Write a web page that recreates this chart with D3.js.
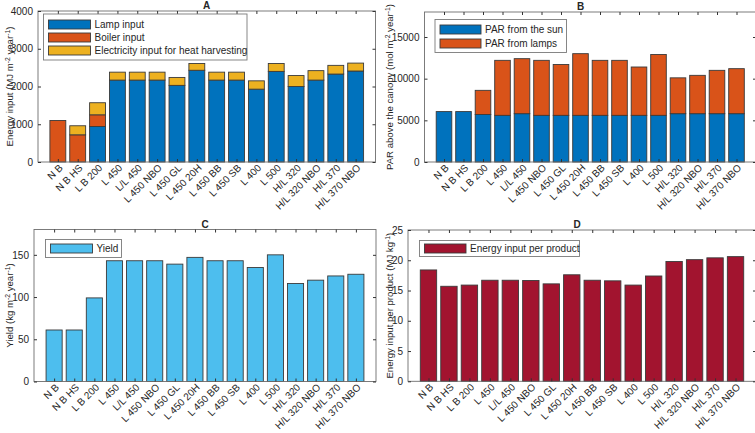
<!DOCTYPE html>
<html><head><meta charset="utf-8">
<script src="https://cdn.jsdelivr.net/npm/d3@7"></script>
<style>
body{margin:0;background:#fff;}
text{font-family:"Liberation Sans",Arial,Helvetica,sans-serif;fill:#262626;}
</style></head>
<body><svg id="chart" width="755" height="433"></svg>
<script>
const categories = ["N B","N B HS","L B 200","L 450","L/L 450","L 450 NBO","L 450 GL","L 450 20H","L 450 BB","L 450 SB","L 400","L 500","H/L 320","H/L 320 NBO","H/L 370","H/L 370 NBO"];
// Panel A (MJ m-2 year-1)
const lampInput   = [0,0,940,2170,2170,2170,2030,2430,2170,2170,1930,2400,2000,2170,2330,2410];
const boilerInput = [1100,720,310,0,0,0,0,0,0,0,0,0,0,0,0,0];
const elecHeatHarvest = [0,240,320,210,210,210,210,180,210,210,220,210,290,250,230,210];
// Panel B (mol m-2 year-1)
const parSun   = [6050,6050,5700,5600,5800,5600,5600,5600,5600,5600,5600,5600,5800,5800,5800,5800];
const parLamps = [0,0,2900,6600,6600,6600,6100,7400,6600,6600,5800,7300,4300,4600,5200,5400];
// Panel C (kg m-2 year-1)
const yieldVals = [61,61,99,143,143,143,139,147,143,143,135,150,116,120,125,127];
// Panel D (MJ kg-1)
const energyPerProduct = [18.4,15.7,15.9,16.7,16.7,16.65,16.1,17.6,16.7,16.6,15.9,17.4,19.8,20.1,20.4,20.6];

const ticksA = [0,1000,2000,3000,4000];
const ticksB = [0,5000,10000,15000];
const ticksC = [0,50,100,150];
const ticksD = [0,5,10,15,20,25];

const COL = {blue:"#0072BD", orange:"#D95319", yellow:"#EDB120", light:"#4DBEEE", red:"#A2142F"};
const FS = 10;
const svg = d3.select("#chart");

function panel(cfg){
  const g = svg.append("g");
  const x = d3.scalePoint().domain(categories).range([cfg.left, cfg.right]).padding(1);
  const step = x.step();
  const bw = step*0.8;
  const y = d3.scaleLinear().domain(cfg.ydomain).range([cfg.bottom, cfg.top]);
  const stack = d3.stack().keys(cfg.series.map((s,i)=>i))
    .value((d,k)=>cfg.series[k].values[d]);
  const layers = stack(d3.range(categories.length));
  layers.forEach((layer,k)=>{
    g.append("g").selectAll("rect").data(layer.filter(d=>d[1]-d[0]>0)).join("rect")
      .attr("x", d=>x(categories[d.data])-bw/2)
      .attr("width", bw)
      .attr("y", d=>y(d[1]))
      .attr("height", d=>y(d[0])-y(d[1]))
      .attr("fill", cfg.series[k].color)
      .attr("stroke", "#3a3a3a").attr("stroke-width", 0.9);
  });
  const axCol = "#6e6e6e";
  g.append("rect").attr("x",cfg.left).attr("y",cfg.top)
    .attr("width",cfg.right-cfg.left).attr("height",cfg.bottom-cfg.top)
    .attr("fill","none").attr("stroke",axCol).attr("stroke-width",0.9);
  const yAx = g.append("g").attr("transform",`translate(${cfg.left},0)`)
    .call(d3.axisLeft(y).tickValues(cfg.yticks).tickSize(-3).tickPadding(5).tickFormat(d3.format("d")));
  yAx.select(".domain").remove();
  yAx.selectAll("line").attr("stroke","#333");
  yAx.selectAll("text").attr("font-size",FS).attr("fill","#262626").attr("font-family",null);
  const yAxR = g.append("g").attr("transform",`translate(${cfg.right},0)`)
    .call(d3.axisRight(y).tickValues(cfg.yticks).tickSize(-3).tickFormat(""));
  yAxR.select(".domain").remove();
  yAxR.selectAll("line").attr("stroke","#333");
  const xAx = g.append("g").attr("transform",`translate(0,${cfg.bottom})`)
    .call(d3.axisBottom(x).tickSize(-3).tickFormat(""));
  xAx.select(".domain").remove();
  xAx.selectAll("line").attr("stroke","#333");
  const xAxT = g.append("g").attr("transform",`translate(0,${cfg.top})`)
    .call(d3.axisTop(x).tickSize(-3).tickFormat(""));
  xAxT.select(".domain").remove();
  xAxT.selectAll("line").attr("stroke","#333");
  g.append("g").selectAll("text").data(categories).join("text")
    .attr("transform", d=>`translate(${x(d)+5.5},${cfg.bottom+6.5}) rotate(-45)`)
    .attr("text-anchor","end").attr("font-size",FS).text(d=>d);
  g.append("text").attr("x",cfg.titleX).attr("y",cfg.top-2)
    .attr("text-anchor","middle").attr("font-size",10).attr("font-weight","bold").text(cfg.title);
  const yl = g.append("text").attr("transform",`translate(${cfg.ylabelX},${(cfg.top+cfg.bottom)/2}) rotate(-90)`)
    .attr("text-anchor","middle").attr("font-size",9.6);
  cfg.ylabel.forEach(p=>{
    const t = yl.append("tspan").text(p.t);
    if(p.sup){ t.attr("font-size",6.8).attr("baseline-shift","super"); }
  });
  const L = cfg.legend;
  g.append("rect").attr("x",L.x).attr("y",L.y).attr("width",L.w).attr("height",L.h)
    .attr("fill","#fff").attr("stroke","#7a7a7a").attr("stroke-width",0.9);
  cfg.series.forEach((s,k)=>{
    const cy = L.y + L.pad + k*L.row + L.row/2;
    g.append("rect").attr("x",L.x+5).attr("y",cy-4.5).attr("width",L.pw).attr("height",9)
      .attr("fill",s.color).attr("stroke","#3a3a3a").attr("stroke-width",0.9);
    g.append("text").attr("x",L.x+L.pw+9).attr("y",cy+3.6).attr("font-size",FS).text(s.name);
  });
}

panel({left:38, right:375.5, top:11, bottom:162, ydomain:[0,4000], yticks:ticksA,
  title:"A", titleX:206.5, ylabelX:13,
  ylabel:[{t:"Energy input (MJ m"},{t:"-2",sup:1},{t:" year"},{t:"-1",sup:1},{t:")"}],
  series:[{name:"Lamp input",values:lampInput,color:COL.blue},
          {name:"Boiler input",values:boilerInput,color:COL.orange},
          {name:"Electricity input for heat harvesting",values:elecHeatHarvest,color:COL.yellow}],
  legend:{x:43.5,y:14,w:203.5,h:46,pad:4,row:13,pw:42}});

panel({left:424.5, right:756, top:12, bottom:162, ydomain:[0,18000], yticks:ticksB,
  title:"B", titleX:580.5, ylabelX:393,
  ylabel:[{t:"PAR above the canopy (mol m"},{t:"-2",sup:1},{t:" year"},{t:"-1",sup:1},{t:")"}],
  series:[{name:"PAR from the sun",values:parSun,color:COL.blue},
          {name:"PAR from lamps",values:parLamps,color:COL.orange}],
  legend:{x:435,y:19.5,w:131.5,h:33,pad:3,row:14,pw:41}});

panel({left:34, right:376, top:229.5, bottom:381.5, ydomain:[0,180], yticks:ticksC,
  title:"C", titleX:205, ylabelX:13,
  ylabel:[{t:"Yield (kg m"},{t:"-2",sup:1},{t:" year"},{t:"-1",sup:1},{t:")"}],
  series:[{name:"Yield",values:yieldVals,color:COL.light}],
  legend:{x:45.5,y:239.5,w:76,h:18,pad:2.5,row:13,pw:42}});

panel({left:408, right:756, top:230, bottom:381.3, ydomain:[0,25], yticks:ticksD,
  title:"D", titleX:577, ylabelX:393,
  ylabel:[{t:"Energy input per product (MJ kg"},{t:"-1",sup:1},{t:")"}],
  series:[{name:"Energy input per product",values:energyPerProduct,color:COL.red}],
  legend:{x:419.5,y:240.5,w:160,h:16,pad:1.5,row:13,pw:41.5}});
</script></body></html>
